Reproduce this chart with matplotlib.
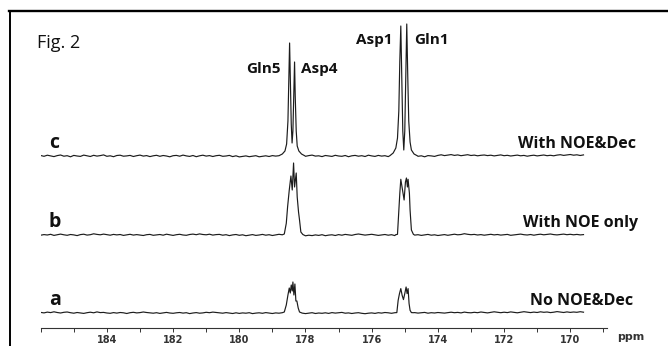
import numpy as np
import matplotlib
matplotlib.use("Agg")
import matplotlib.pyplot as plt
from matplotlib.lines import Line2D

# chemical shift grid of the baseline (ppm), 0.1 ppm steps
ppm_start = 186.0
ppm_step = 0.1

# baseline noise of each trace (pixel-ish intensity units)
noise_c = [
    0.5, -0.3, 0.8, 0.1, -0.6, 0.4, 1.0, -0.2, 0.3, -0.8, 0.6, 0.0, -0.4, 0.9, 0.2, -0.5, 0.7, -0.1, 0.4, 1.1,
    -0.3, 0.2, -0.7, 0.5, 0.8, -0.2, 0.1, 0.6, -0.5, 0.3, 0.9, -0.1, 0.4, -0.6, 0.2, 0.7, -0.3, 0.5, 0.0, -0.8,
    0.3, 0.6, -0.2, 0.9, 0.1, -0.4, 0.5, -0.7, 0.2, 0.8, -0.1, 0.4, -0.5, 0.3, 0.7, -0.3, 0.0, 0.6, -0.6, 0.2,
    -0.9, -0.4, 0.1, -0.7, -0.2, 0.3, -0.8, -0.3, 0.2, -0.5, 0.4, -0.1, -0.6, 0.3, 0.8, -0.2, 0.5, -0.4, 0.1, 0.6,
    -0.3, 0.4, 0.9, -0.1, 0.2, -0.6, 0.5, 0.1, -0.4, 0.7, 0.0, -0.3, 0.5, -0.7, 0.2, 0.6, -0.2, 0.3, -0.5, 0.8,
    0.1, -0.4, 0.6, -0.1, 0.3, -0.6, 0.4, 0.9, -0.2, 0.5, 0.0, -0.5, 0.3, 0.7, -0.3, 0.2, -0.8, 0.4, 0.1, -0.4,
    0.6, 1.2, 0.4, 0.9, 1.4, 0.6, 1.1, 0.3, 0.8, 1.3, 0.5, 0.9, 0.2, 0.7, 1.0, 0.4, 0.8, 0.1, 0.6, 1.1,
    0.3, 0.7, 0.0, 0.5, 0.9, 0.2, 0.6, -0.2, 0.4, 0.8, 0.1, 0.5, 1.0, 0.3, 0.7, 0.2, 0.9, 1.3, 0.6, 1.0,
    1.5, 0.8, 1.2, 0.5, 1.1,
]
noise_b = [
    -0.2, 0.4, 0.0, 0.7, -0.4, 0.3, 0.9, 0.2, -0.3, 0.5, 0.1, -0.6, 0.4, 0.8, -0.1, 0.3, 1.2, 0.6, 0.2, 0.9,
    0.4, -0.2, 0.6, 0.1, 0.5, -0.4, 0.2, 0.7, -0.1, 0.4, 0.0, -0.5, 0.3, 0.6, -0.3, 0.1, 0.5, -0.2, 0.8, 0.2,
    -0.4, 0.3, 0.7, 0.0, -0.3, 0.5, 0.9, 0.3, 1.1, 0.5, 0.2, 0.8, -0.1, 0.4, 0.6, -0.2, 0.3, -0.6, 0.1, 0.5,
    -0.3, 0.2, -0.7, -0.1, 0.4, -0.4, 0.0, 0.6, -0.2, 0.3, -0.5, 0.1, 0.7, -0.3, 0.2, 0.5, -0.1, 0.4, -0.6, 0.0,
    -0.8, -0.2, -0.6, 0.1, -0.4, 0.3, -0.7, -0.1, 0.2, -0.5, 0.4, -0.2, 0.6, 0.1, -0.3, 0.5, 1.0, 0.4, -0.1, 0.3,
    0.7, 0.2, -0.4, 0.1, 0.5, -0.2, 0.3, -0.6, 0.0, 0.4, -0.3, 0.2, -0.5, -0.1, 0.3, -0.4, 0.1, 0.6, -0.2, 0.2,
    -0.5, 0.0, 0.4, -0.3, 0.3, 0.8, 0.2, 0.5, 1.3, 0.7, 0.3, 0.6, 0.0, 0.4, -0.2, 0.3, 0.7, 0.1, 0.5, -0.1,
    0.2, 0.6, -0.3, 0.1, 0.4, 0.9, 0.3, 0.0, 0.5, -0.2, 0.4, 0.8, 0.2, 0.6, 1.0, 0.4, 0.1, 0.5, 0.9, 0.3,
    0.7, 0.2, 0.6, 0.1, 0.4,
]
noise_a = [
    0.6, 0.1, 0.9, 0.4, 1.2, 0.5, 0.0, 0.7, 1.0, 0.3, -0.2, 0.5, 0.1, -0.4, 0.3, 0.8, 0.2, 1.1, 0.4, 0.6,
    0.0, -0.3, 0.4, -0.1, 0.5, 0.2, -0.5, 0.3, 0.7, 0.1, 0.4, 1.0, 0.5, 0.2, -0.2, 0.3, -0.4, 0.1, 0.6, 0.0,
    -0.3, 0.2, 0.5, -0.1, 0.3, -0.6, 0.0, 0.4, -0.2, 0.1, 0.7, 0.3, 0.9, 0.5, 0.1, -0.2, 0.4, 0.0, -0.5, 0.2,
    -0.4, 0.1, -0.2, 0.3, -0.6, -0.1, 0.2, -0.3, 0.4, 0.0, -0.5, 0.1, -0.2, 0.3, -0.7, -0.2, 0.1, -0.4, 0.2, -0.1,
    -0.6, -0.2, 0.3, -0.5, 0.0, -0.3, 0.2, -0.4, 0.4, -0.1, 0.3, 0.6, -0.2, 0.1, -0.5, 0.0, 0.3, -0.3, -0.7, -0.2,
    0.1, -0.4, 0.3, -0.1, 0.5, 0.2, -0.3, 0.4, 0.0, -0.2, 0.3, 0.7, 0.1, 0.4, -0.1, 0.2, 0.6, -0.2, 0.3, 0.0,
    0.5, 0.2, -0.1, 0.4, 0.8, 0.3, 0.6, 0.1, 0.9, 0.4, 0.2, 0.7, 0.3, 1.0, 0.5, 0.1, 0.6, 1.2, 0.7, 0.3,
    0.8, 0.4, 1.1, 0.6, 0.2, 0.7, 1.3, 0.8, 0.4, 0.9, 0.5, 1.2, 0.7, 1.0, 0.4, 0.8, 1.4, 0.9, 0.5, 1.1,
    0.6, 1.0, 0.7, 1.3, 0.8,
]

# peak regions: (ppm, intensity)
c_gln5_ppm = [178.80, 178.70, 178.62, 178.57, 178.53, 178.50, 178.48, 178.46, 178.43, 178.405,
              178.38, 178.35, 178.33, 178.31, 178.28, 178.25, 178.20, 178.12, 178.02]
c_gln5_int = [0.3, 2.0, 5.0, 12.0, 35.0, 80.0, 113.0, 80.0, 32.0, 13.0,
              25.0, 65.0, 94.0, 60.0, 25.0, 10.0, 5.0, 2.0, 0.2]
c_asp1_ppm = [175.45, 175.35, 175.27, 175.22, 175.18, 175.15, 175.12, 175.09, 175.06, 175.03,
              175.00, 174.97, 174.94, 174.91, 174.88, 174.84, 174.80, 174.72, 174.62]
c_asp1_int = [0.3, 3.0, 8.0, 18.0, 45.0, 95.0, 130.0, 75.0, 25.0, 6.0,
              25.0, 80.0, 132.0, 80.0, 35.0, 14.0, 6.0, 2.0, 0.2]

b_gln5_ppm = [178.70, 178.64, 178.58, 178.54, 178.49, 178.44, 178.40, 178.36, 178.33, 178.28,
              178.25, 178.21, 178.18, 178.14, 178.08]
b_gln5_int = [0.2, 1.0, 11.7, 28.3, 45.0, 59.0, 45.0, 72.0, 48.0, 62.0,
              38.0, 23.0, 15.0, 3.0, 0.5]
b_asp1_ppm = [175.28, 175.22, 175.19, 175.15, 175.12, 175.07, 175.02, 174.98, 174.95, 174.92,
              174.90, 174.86, 174.84, 174.80, 174.74]
b_asp1_int = [0.2, 0.7, 18.0, 41.7, 55.7, 45.0, 35.0, 53.0, 57.0, 48.0,
              55.7, 41.7, 25.0, 5.0, 0.7]

a_gln5_ppm = [178.70, 178.64, 178.58, 178.53, 178.49, 178.46, 178.43, 178.40, 178.38, 178.35,
              178.32, 178.29, 178.26, 178.22, 178.18, 178.13]
a_gln5_int = [0.3, 1.0, 8.0, 18.0, 25.0, 20.0, 28.0, 22.0, 31.0, 18.0,
              29.0, 12.0, 12.0, 5.0, 1.0, 0.3]
a_asp1_ppm = [175.30, 175.24, 175.20, 175.16, 175.12, 175.08, 175.04, 175.00, 174.96, 174.93,
              174.90, 174.87, 174.84, 174.80, 174.74]
a_asp1_int = [0.3, 0.4, 12.7, 19.4, 24.4, 17.7, 13.4, 19.4, 26.0, 19.4,
              24.4, 9.4, 2.7, 0.4, 0.3]

trace_names = ["c", "b", "a"]
trace_labels = ["With NOE&Dec", "With NOE only", "No NOE&Dec"]
peak_names = ["Gln5", "Asp4", "Asp1", "Gln1"]
major_ticks = [184, 182, 180, 178, 176, 174, 172, 170]

W, H = 668, 346
offsets = {"c": 157, "b": 78, "a": 0}


def fx(x):
    return x / W


def fy(y):
    return 1 - y / H


def build_trace(noise, segments):
    grid = ppm_start - ppm_step * np.arange(len(noise))
    vals = np.array(noise, dtype=float)
    keep = np.ones(len(grid), dtype=bool)
    xs, ys = [], []
    for sp, si in segments:
        keep &= ~((grid <= max(sp)) & (grid >= min(sp)))
        xs.extend(sp)
        ys.extend(si)
    x = np.concatenate([grid[keep], xs])
    y = np.concatenate([vals[keep], ys])
    order = np.argsort(-x)
    return x[order], y[order]


traces = {
    "c": build_trace(noise_c, [(c_gln5_ppm, c_gln5_int), (c_asp1_ppm, c_asp1_int)]),
    "b": build_trace(noise_b, [(b_gln5_ppm, b_gln5_int), (b_asp1_ppm, b_asp1_int)]),
    "a": build_trace(noise_a, [(a_gln5_ppm, a_gln5_int), (a_asp1_ppm, a_asp1_int)]),
}

fig = plt.figure(figsize=(W / 100, H / 100), dpi=100)
ax = fig.add_axes([fx(40.7), fy(328), (649.7 - 40.7) / W, (328 - 11) / H])

for name in trace_names:
    x, y = traces[name]
    ax.plot(x, y + offsets[name], color="#1c1c1c", lw=0.85)

ax.set_xlim(186.0, 167.6)
ax.set_ylim(-15, 302)
for s in ["top", "right", "left"]:
    ax.spines[s].set_visible(False)
ax.spines["bottom"].set_bounds(168.9, 186.0)
ax.spines["bottom"].set_color("#333333")
ax.spines["bottom"].set_linewidth(0.8)
ax.set_yticks([])
ax.set_xticks(major_ticks)
ax.set_xticks(np.arange(169, 187, 1), minor=True)
ax.set_xticklabels([str(t) for t in major_ticks], fontfamily="DejaVu Sans",
                   fontweight="bold", fontsize=7, color="#333333")
ax.tick_params(axis="x", which="both", direction="out", length=3, width=0.7,
               colors="#333333", pad=2)
ax.patch.set_alpha(0)

lab_font = dict(family="Open Sans", fontweight="bold", color="#111111")
fig.text(fx(37), fy(48.3), "Fig. 2", family="Open Sans", fontsize=13, color="#111111",
         va="baseline", ha="left")
fig.text(fx(281), fy(73.3), peak_names[0], fontsize=11, ha="right", va="baseline", **lab_font)
fig.text(fx(301), fy(73.3), peak_names[1], fontsize=11, ha="left", va="baseline", **lab_font)
fig.text(fx(393), fy(44), peak_names[2], fontsize=11, ha="right", va="baseline", **lab_font)
fig.text(fx(414), fy(44), peak_names[3], fontsize=11, ha="left", va="baseline", **lab_font)

for name, lab, yb, xr in zip(trace_names, trace_labels, [148, 227, 305], [636, 638, 633]):
    fig.text(fx(49), fy(yb), name, fontsize=14, ha="left", va="baseline", **lab_font)
    fig.text(fx(xr), fy(yb), lab, fontsize=11.5, ha="right", va="baseline", **lab_font)

fig.text(fx(631), fy(340.5), "ppm", family="DejaVu Sans", fontweight="bold",
         fontsize=8, color="#333333", ha="center", va="baseline")

# frame around the figure panel
fig.add_artist(Line2D([fx(9), fx(668)], [fy(11), fy(11)], color="black", lw=1.7))
fig.add_artist(Line2D([fx(10), fx(10)], [fy(11), fy(346)], color="black", lw=1.4))

fig.savefig("out.png", dpi=100)
